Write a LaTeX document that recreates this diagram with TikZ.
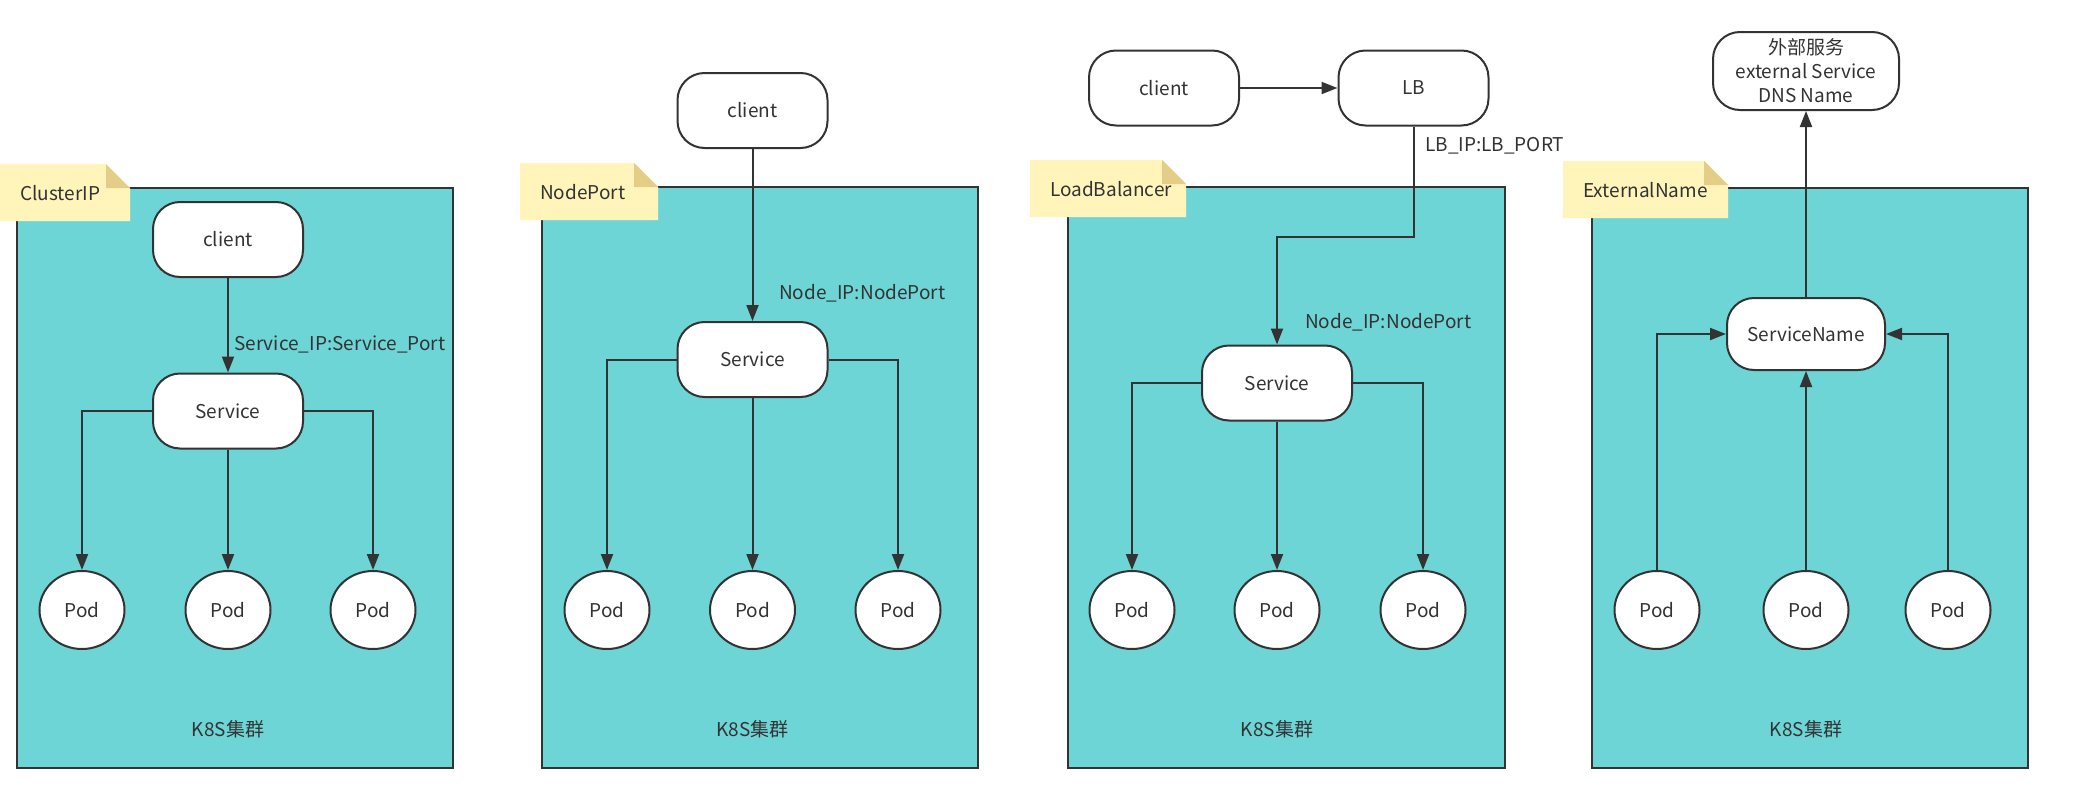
\documentclass[tikz,border=0pt]{standalone}
\usepackage{fontspec}
\setmainfont{Noto Sans CJK SC}
\usetikzlibrary{arrows.meta,shapes.geometric}

\definecolor{ink}{HTML}{333333}
\definecolor{cluster}{HTML}{6ED5D6}
\definecolor{notefill}{HTML}{FFF5BA}
\definecolor{notefold}{HTML}{E3CD87}

\tikzset{
  txt/.style={font=\fontsize{19}{24}\selectfont, text=ink},
  term/.style={txt, draw=ink, line width=2pt, fill=white, rounded corners=27pt,
               minimum width=150pt, minimum height=75pt, inner sep=0pt},
  pod/.style={txt, ellipse, draw=ink, line width=2pt, fill=white,
              minimum width=85pt, minimum height=78pt, inner sep=0pt},
  clusterbox/.style={draw=ink, line width=2.5pt, fill=cluster},
  lbl/.style={txt, anchor=west, inner sep=0pt},
  arr/.style={draw=ink, line width=2pt, -{Triangle[length=16pt,width=12pt]}},
  wire/.style={draw=ink, line width=2pt},
}

% sticky note with a folded top-right corner: \stickynote{name}{x}{y}{width}{text}
\newcommand{\stickynote}[5]{%
  \fill[notefill] (#2,#3) -- ++(#4-24,0) -- ++(24,24) -- ++(0,33) -- ++(-#4,0) -- cycle;
  \fill[notefold] (#2+#4-24,#3) -- ++(24,24) -- ++(-24,0) -- cycle;
  \node[lbl] (#1) at (#2+20,#3+29) {#5};
}

\begin{document}
\begin{tikzpicture}[x=1pt,y=-1pt]
\useasboundingbox (0,0) rectangle (2077,811);
\fill[white] (0,0) rectangle (2077,811);

% ---------- ClusterIP ----------
\path[clusterbox] (17,188) rectangle (453,768);
\stickynote{n1}{0}{164}{130}{ClusterIP}
\node[term] (c1) at (228,239.5) {client};
\node[term] (s1) at (228,411) {Service};
\node[pod] (p1a) at (82,610) {Pod};
\node[pod] (p1b) at (228,610) {Pod};
\node[pod] (p1c) at (373,610) {Pod};
\node[txt] (k1) at (228,729) {K8S集群};
\draw[arr] (c1) -- (s1);
\node[lbl] (l1) at (234,344) {Service\_IP:Service\_Port};
\draw[arr] (s1.west) -| (p1a.north);
\draw[arr] (s1) -- (p1b);
\draw[arr] (s1.east) -| (p1c.north);

% ---------- NodePort ----------
\path[clusterbox] (542,187) rectangle (978,768);
\stickynote{n2}{520}{163}{138}{NodePort}
\node[term] (c2) at (752.5,110.5) {client};
\node[term] (s2) at (752.5,359.5) {Service};
\node[pod] (p2a) at (607,610) {Pod};
\node[pod] (p2b) at (752.5,610) {Pod};
\node[pod] (p2c) at (898,610) {Pod};
\node[txt] (k2) at (752.5,729) {K8S集群};
\draw[arr] (c2) -- (s2);
\node[lbl] (l2) at (779,293) {Node\_IP:NodePort};
\draw[arr] (s2.west) -| (p2a.north);
\draw[arr] (s2) -- (p2b);
\draw[arr] (s2.east) -| (p2c.north);

% ---------- LoadBalancer ----------
\path[clusterbox] (1068,187) rectangle (1505,768);
\stickynote{n3}{1030}{160}{156}{LoadBalancer}
\node[term] (c3) at (1164,88) {client};
\node[term] (lb3) at (1413.5,88) {LB};
\node[term] (s3) at (1277,383) {Service};
\node[pod] (p3a) at (1132,610) {Pod};
\node[pod] (p3b) at (1277,610) {Pod};
\node[pod] (p3c) at (1423,610) {Pod};
\node[txt] (k3) at (1277,729) {K8S集群};
\draw[arr] (c3) -- (lb3);
\coordinate (j3) at (1277,237);
\draw[arr] (lb3.south) -- (lb3.south |- j3) -- (j3) -- (s3.north);
\node[lbl] (l3a) at (1425,146) {LB\_IP:LB\_PORT};
\node[lbl] (l3b) at (1305,322) {Node\_IP:NodePort};
\draw[arr] (s3.west) -| (p3a.north);
\draw[arr] (s3) -- (p3b);
\draw[arr] (s3.east) -| (p3c.north);

% ---------- ExternalName ----------
\path[clusterbox] (1592,188) rectangle (2028,768);
\stickynote{n4}{1563}{161}{165}{ExternalName}
\node[term, minimum width=186pt, minimum height=78pt, align=center,
      font=\fontsize{19}{24}\selectfont] (e4) at (1806,71)
      {外部服务\\external Service\\DNS Name};
\node[term, minimum width=158pt, minimum height=72pt] (sn4) at (1806,334) {ServiceName};
\node[pod] (p4a) at (1657,610) {Pod};
\node[pod] (p4b) at (1806,610) {Pod};
\node[pod] (p4c) at (1948,610) {Pod};
\node[txt] (k4) at (1806,729) {K8S集群};
\draw[arr] (sn4) -- (e4);
\draw[arr] (p4a.north) |- (sn4.west);
\draw[arr] (p4b) -- (sn4);
\draw[arr] (p4c.north) |- (sn4.east);
\end{tikzpicture}
\end{document}
